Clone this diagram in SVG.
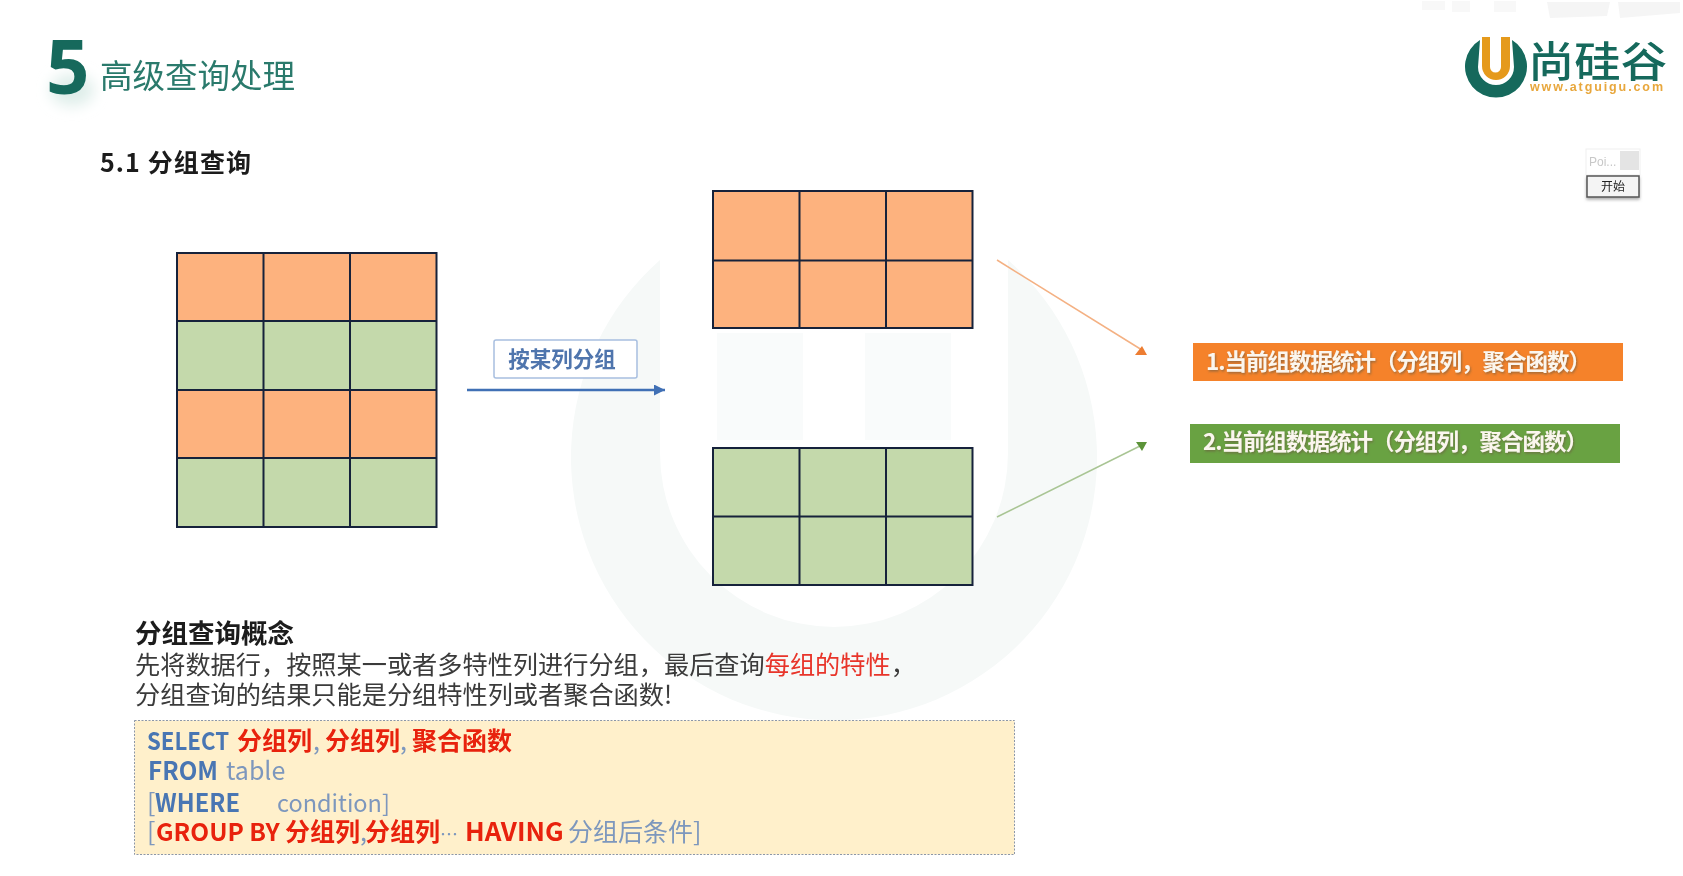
<svg xmlns="http://www.w3.org/2000/svg" width="1683" height="876" viewBox="0 0 1683 876">
<style>
text{font-family:"Noto Sans CJK SC","Liberation Sans",sans-serif}
.o{fill:#fdb27e}.g{fill:#c4d9ab}
.grid{fill:none;stroke:#17233a;stroke-width:2}
.body{font-size:25.2px;fill:#3a3a3a}
.sql{font-size:25px}
.b{fill:#4a76b3;font-weight:700}
.l{fill:#7d97bd;font-weight:400}
.r{fill:#e8200c;font-weight:700}
.lbl{font-size:22.500px;font-weight:700;fill:#fbf6ee}
</style>
<defs>
<marker id="ab" markerWidth="12" markerHeight="12" refX="11" refY="5.500" orient="auto" markerUnits="userSpaceOnUse"><path d="M0 0L11 5.500L0 11Z" fill="#3f6fb5"/></marker>
<filter id="bl" x="-50%" y="-50%" width="200%" height="200%"><feGaussianBlur stdDeviation="7"/></filter>
<filter id="soft" x="0" y="0" width="100%" height="100%" filterUnits="userSpaceOnUse" primitiveUnits="userSpaceOnUse"><feGaussianBlur stdDeviation="0.450"/></filter>
<filter id="ts" x="-5%" y="-20%" width="110%" height="150%"><feDropShadow dx="1" dy="1.500" stdDeviation="0.800" flood-color="#6b5a40" flood-opacity="0.650"/></filter>
<filter id="btn" x="-20%" y="-20%" width="140%" height="160%"><feDropShadow dx="0" dy="2" stdDeviation="1.500" flood-color="#777" flood-opacity="0.600"/></filter>
</defs>
<g filter="url(#soft)">
<rect width="1683" height="876" fill="#fff"/>
<g id="watermark">
<path d="M660 260A263 263 0 1 0 1008 260V453A174 174 0 0 1 660 453Z" fill="#f6f9f8"/>
<path d="M717 333H803V440H717ZM865 333H951V440H865Z" fill="#f9fbfb"/>
</g>
<g id="title">
<ellipse cx="72" cy="90" rx="22" ry="16" fill="#dfeeea" filter="url(#bl)"/>
<text x="46" y="94" font-size="76" font-weight="700" fill="#12695c" style="font-family:'Open Sans','Liberation Sans',sans-serif">5</text>
<text x="100" y="88" font-size="32.500" fill="#2b7a6c">高级查询处理</text>
<text x="100" y="172" font-size="25" font-weight="700" fill="#1a1a1a" textLength="151">5.1 分组查询</text>
</g>
<g id="logo">
<path d="M1480 40A31 31 0 1 0 1512 40L1514 67A18 18 0 0 1 1478 67Z" fill="#12695c"/>
<path d="M1482 37H1490V67A5.500 5.500 0 0 0 1501 67V37H1510V66A14 14 0 0 1 1482 66Z" fill="#e59a1c"/>
<text x="1528" y="77" font-size="42" font-weight="500" fill="#12695c" textLength="139" lengthAdjust="spacingAndGlyphs">尚硅谷</text>
<text x="1530" y="91" font-size="12.500" font-weight="700" fill="#e8a73c" textLength="133" style="font-family:'Liberation Sans',sans-serif">www.atguigu.com</text>
</g>
<g id="widget">
<rect x="1586" y="149" width="54" height="26" fill="#fff" stroke="#f0f0f0"/>
<rect x="1620" y="151" width="19" height="19" fill="#e4e4e4"/>
<text x="1589" y="166" font-size="12" fill="#c8c8c8" style="font-family:'Liberation Sans',sans-serif">Poi...</text>
<rect x="1587" y="176" width="52" height="21" fill="#f4f4f4" stroke="#555" stroke-width="1.500" filter="url(#btn)"/>
<text x="1613" y="191" font-size="12" fill="#222" text-anchor="middle">开始</text>
</g>
<g id="table-source">
<rect class="o" x="177" y="253" width="259.500" height="68"/><rect class="g" x="177" y="321" width="259.500" height="69"/><rect class="o" x="177" y="390" width="259.500" height="68"/><rect class="g" x="177" y="458" width="259.500" height="69"/>
<path class="grid" d="M177 253H436.500V527H177ZM263.500 253V527M350 253V527M177 321H436.500M177 390H436.500M177 458H436.500"/>
</g>
<g id="table-orange">
<rect class="o" x="713" y="191" width="259.500" height="137"/>
<path class="grid" d="M713 191H972.500V328H713ZM799.500 191V328M886 191V328M713 260.500H972.500"/>
</g>
<g id="table-green">
<rect class="g" x="713" y="448" width="259.500" height="137"/>
<path class="grid" d="M713 448H972.500V585H713ZM799.500 448V585M886 448V585M713 516.500H972.500"/>
</g>
<g id="connectors" fill="none">
<path d="M467 390H665" stroke="#3f6fb5" stroke-width="2.500" marker-end="url(#ab)"/>
<path d="M997 260L1142 350" stroke="#f4b183" stroke-width="1.500"/>
<path d="M1135 355L1142 346L1147 355Z" fill="#ed7d31"/>
<path d="M997 517L1140 446" stroke="#a9c594" stroke-width="1.500"/>
<path d="M1136 442H1147L1142 451Z" fill="#5c9338"/>
</g>
<g id="label-group">
<rect x="494" y="340" width="143" height="38" rx="2" fill="#fff" stroke="#a8bfe0" stroke-width="1.500"/>
<text x="562" y="367" font-size="21.500" font-weight="700" fill="#4f74ad" text-anchor="middle">按某列分组</text>
</g>
<g id="stat-1">
<rect x="1193" y="343" width="430" height="38" fill="#f5822a"/>
<text class="lbl" x="1206" y="370" textLength="385" filter="url(#ts)">1.当前组数据统计（分组列，聚合函数）</text>
</g>
<g id="stat-2">
<rect x="1190" y="424" width="430" height="39" fill="#69a243"/>
<text class="lbl" x="1203" y="450" textLength="385" filter="url(#ts)">2.当前组数据统计（分组列，聚合函数）</text>
</g>
<g id="concept">
<text x="135" y="643" font-size="26.500" font-weight="700" fill="#1a1a1a">分组查询概念</text>
<text class="body" x="135" y="674">先将数据行，按照某一或者多特性列进行分组，最后查询<tspan fill="#e8352a">每组的特性</tspan>，</text>
<text class="body" x="135" y="704">分组查询的结果只能是分组特性列或者聚合函数!</text>
</g>
<g id="sql-box">
<rect x="134.500" y="720.500" width="880" height="134" fill="#fff0cb" stroke="#8c97a8" stroke-width="1" stroke-dasharray="2 1.500"/>
<text class="sql" y="750"><tspan class="b" x="147" textLength="82" lengthAdjust="spacingAndGlyphs" font-size="24.500">SELECT</tspan><tspan class="r" x="237">分组列</tspan><tspan class="l" x="313">,</tspan><tspan class="r" x="325">分组列</tspan><tspan class="l" x="400">,</tspan><tspan class="r" x="412">聚合函数</tspan></text>
<text class="sql" y="780"><tspan class="b" x="148" font-size="25" textLength="70" lengthAdjust="spacingAndGlyphs">FROM</tspan><tspan class="l" x="226">table</tspan></text>
<text class="sql" y="812"><tspan class="l" x="147">[</tspan><tspan class="b" x="155" font-size="25" textLength="85" lengthAdjust="spacingAndGlyphs">WHERE</tspan><tspan class="l" x="277" font-size="23.500">condition]</tspan></text>
<text class="sql" y="841"><tspan class="l" x="147">[</tspan><tspan class="r" x="156" font-size="24.500">GROUP BY</tspan><tspan class="r" x="285">分组列</tspan><tspan class="l" x="360">,</tspan><tspan class="r" x="365">分组列</tspan><tspan class="l" x="440" font-size="18">…</tspan><tspan class="r" x="465" font-size="26">HAVING</tspan><tspan class="l" x="568">分组后条件]</tspan></text>
</g>
<g id="top-watermark" fill="#f5f5f5">
<path d="M1547 2H1610L1607 16L1550 18ZM1618 2H1680V13L1620 18Z"/>
<path d="M1422 1H1445V10H1422ZM1452 1H1470V12H1452ZM1494 1H1516V12H1494Z" fill="#f8f8f8"/>
</g>
</g>
</svg>
